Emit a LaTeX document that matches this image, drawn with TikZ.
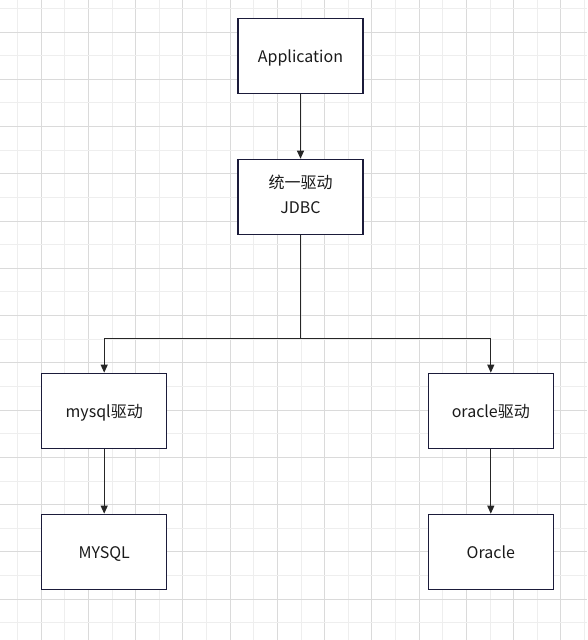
\documentclass[tikz,border=0pt]{standalone}
\usepackage{fontspec}
\setmainfont{Noto Sans CJK SC}
\usetikzlibrary{arrows.meta}
\definecolor{gridminor}{HTML}{EEEEEE}
\definecolor{gridmajor}{HTML}{DADADA}
\definecolor{boxline}{HTML}{1B1B3A}
\definecolor{txt}{HTML}{1A1A1A}
\begin{document}
\begin{tikzpicture}[x=1pt,y=-1pt,
  box/.style={draw=boxline,line width=1.1pt,fill=white,minimum width=125pt,minimum height=75pt,inner sep=0pt,
    text=txt,font=\fontsize{16}{23}\selectfont,align=center},
  onebox/.style={box,text height=16pt,text depth=3pt},
  conn/.style={draw=black!85,line width=1.1pt,-{Triangle[length=8pt,width=7pt]}},
  line/.style={draw=black!85,line width=1.1pt}]
\useasboundingbox (0,0) rectangle (587,640);
\fill[white] (0,0) rectangle (587,640);
% grid
\foreach \k in {0,...,24}{
  \pgfmathsetmacro\xx{17.4+23.63*\k}
  \ifodd\k
    \draw[gridmajor,line width=0.8pt] (\xx,0) -- (\xx,640);
  \else
    \draw[gridminor,line width=0.8pt] (\xx,0) -- (\xx,640);
  \fi
}
\foreach \k in {0,...,26}{
  \pgfmathsetmacro\yy{8.3+23.63*\k}
  \ifodd\k
    \draw[gridmajor,line width=0.8pt] (0,\yy) -- (587,\yy);
  \else
    \draw[gridminor,line width=0.8pt] (0,\yy) -- (587,\yy);
  \fi
}
\node[onebox] (app) at (300.5,55.7) {Application};
\node[box] (jdbc) at (300.5,196.7) {\raisebox{-1.5pt}{\begin{tabular}{@{}c@{}}统一驱动\\[2pt]JDBC\end{tabular}}};
\node[onebox] (mysqld) at (104.2,410.7) {mysql驱动};
\node[onebox] (oracled) at (490.8,410.7) {oracle驱动};
\node[onebox] (mysql) at (104.2,551.7) {MYSQL};
\node[onebox] (oracle) at (490.8,551.7) {Oracle};
\coordinate (split) at (300.5,338.3);
\path[conn] (app) -- (jdbc);
\path[line] (jdbc.south) -- (split);
\path[conn] (split) -| (mysqld.north);
\path[conn] (split) -| (oracled.north);
\path[conn] (mysqld) -- (mysql);
\path[conn] (oracled) -- (oracle);
\end{tikzpicture}
\end{document}
